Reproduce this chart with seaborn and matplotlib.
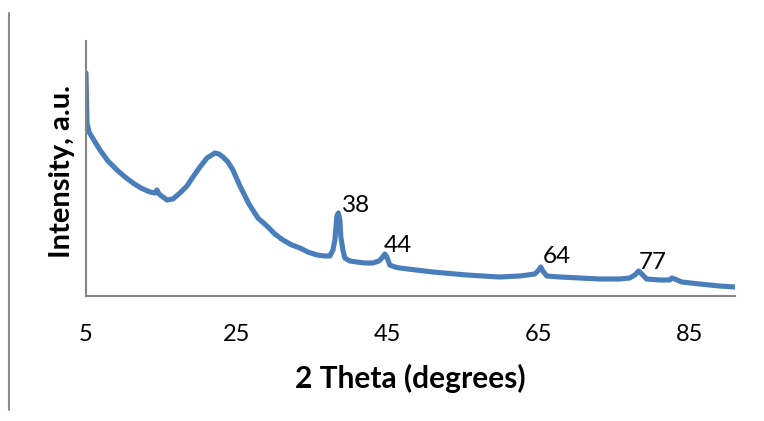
import matplotlib
matplotlib.use("Agg")
import matplotlib.pyplot as plt
import seaborn as sns
import pandas as pd
from matplotlib.lines import Line2D

# ---- data ----
two_theta = [5.00, 5.07, 5.13, 5.40, 5.79, 6.85, 7.91, 9.11, 10.17, 11.23, 12.28,
             13.48, 14.14, 14.40, 14.67, 15.73, 16.52, 17.45, 18.38, 19.17, 20.10,
             21.03, 22.09, 22.62, 23.15, 23.81, 24.47, 25.40, 26.59, 27.78, 28.97,
             30.03, 31.09, 32.28, 33.34, 34.40, 35.60, 36.66, 37.32, 37.72, 37.98,
             38.25, 38.44, 38.64, 38.77, 39.04, 39.30, 39.97, 40.89, 41.95, 43.01,
             43.81, 44.21, 44.60, 44.87, 45.26, 45.93, 46.59, 48.71, 50.96, 53.21,
             55.46, 57.58, 59.83, 62.48, 64.47, 65.00, 65.26, 65.53, 66.06, 67.78,
             70.43, 73.08, 75.73, 77.05, 77.72, 78.25, 78.64, 79.30, 81.03, 82.36,
             82.62, 83.01, 83.94, 86.32, 88.97, 90.96]
intensity = [223, 196, 173, 164, 159, 146, 135, 126, 119, 113, 108,
             104, 103, 106, 102, 96, 97, 103, 110, 119, 129,
             138, 143, 142, 139, 134, 126, 110, 92, 78, 70,
             62, 56, 51, 48, 44, 41, 40, 40, 46, 56,
             80, 83, 76, 59, 46, 38, 35, 34, 33, 33,
             35, 38, 42, 39, 31, 29, 28, 26, 24, 22.5,
             21, 20, 19, 20, 22, 26, 29, 25, 20, 19,
             18, 17, 17, 18, 21, 25, 22, 17, 16, 16,
             18, 17, 14, 12, 10, 9]

peak_labels = ["38", "44", "64", "77"]
peak_label_x = [38.9, 44.5, 65.5, 78.2]
peak_label_y = [84, 44, 33, 27]

x_ticks = [5, 25, 45, 65, 85]
x_label = "2 Theta (degrees)"
y_label = "Intensity, a.u."

df = pd.DataFrame({"two_theta": two_theta, "intensity": intensity})

sns.set_theme(style="white")
plt.rcParams["font.family"] = ["Lato", "DejaVu Sans"]

fig = plt.figure(figsize=(7.64, 4.21), dpi=100)
ax = fig.add_axes([86 / 764, 1 - 296 / 421, (735 - 86) / 764, (296 - 41) / 421])

sns.lineplot(data=df, x="two_theta", y="intensity", ax=ax, color="#4A7EBB",
             linewidth=3.7, sort=False, solid_joinstyle="round", solid_capstyle="round")

for lab, lx, ly in zip(peak_labels, peak_label_x, peak_label_y):
    ax.text(lx, ly, lab, fontsize=17.5, color="black", ha="left", va="baseline")

ax.set_xlim(5, 91)
ax.set_ylim(0, 255)
ax.set_xticks(x_ticks)
ax.set_xticklabels([str(t) for t in x_ticks], fontsize=17, color="black")
ax.tick_params(axis="x", length=0, pad=20)
ax.set_yticks([])
ax.set_xlabel(x_label, fontsize=21.5, fontweight="bold", color="black", labelpad=14)
ax.set_ylabel(y_label, fontsize=21, fontweight="bold", color="black", labelpad=8)
ax.yaxis.label.set_y(0.49)

for side in ["top", "right"]:
    ax.spines[side].set_visible(False)
for side in ["left", "bottom"]:
    ax.spines[side].set_color("#868686")
    ax.spines[side].set_linewidth(1.5)

# page border line at the left of the scan
fig.add_artist(Line2D([8.5 / 764, 8.5 / 764], [1 - 13 / 421, 1 - 410 / 421],
                      transform=fig.transFigure, color="#8c8c8c", linewidth=1.5))

fig.savefig("out.png", dpi=100)
